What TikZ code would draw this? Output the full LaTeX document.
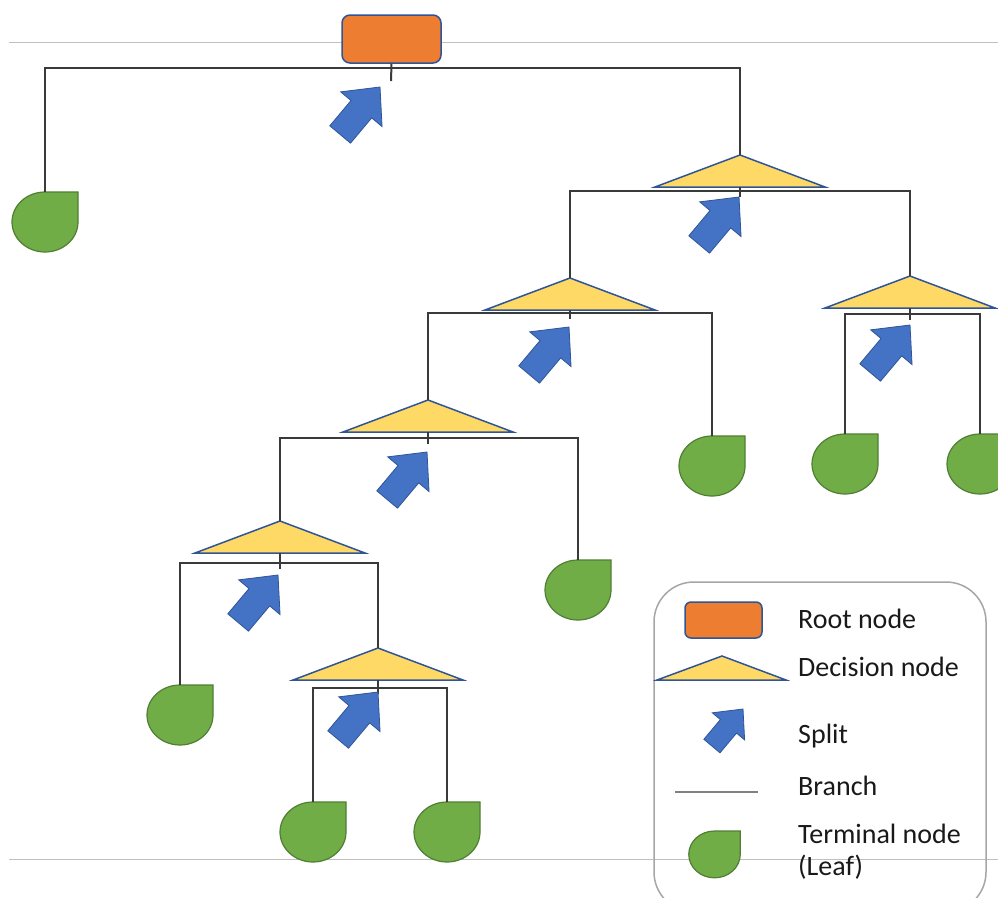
\documentclass[tikz,border=0pt]{standalone}
\usepackage{fontspec}
\setmainfont{Carlito}
\definecolor{rootfill}{HTML}{ED7D31}
\definecolor{edgeblue}{HTML}{2F5597}
\definecolor{decfill}{HTML}{FFD966}
\definecolor{splitfill}{HTML}{4472C4}
\definecolor{leaffill}{HTML}{70AD47}
\definecolor{leafedge}{HTML}{507E32}
\definecolor{branchgray}{HTML}{3A3A3A}
\definecolor{guidegray}{HTML}{C0C0C0}
\definecolor{legendgray}{HTML}{A6A6A6}
\begin{document}
\begin{tikzpicture}[x=1pt,y=-1pt,
  branch/.style={draw=branchgray,line width=2pt},
  guide/.style={draw=guidegray,line width=1pt},
  rootbox/.style={draw=edgeblue,fill=rootfill,line width=1.5pt,rounded corners=8pt,inner sep=0pt},
  decshape/.style={draw=edgeblue,fill=decfill,line width=1.5pt,line join=miter},
  leafshape/.style={draw=leafedge,fill=leaffill,line width=1.2pt},
  splitshape/.style={draw=edgeblue,fill=splitfill,line width=0.8pt,line join=miter},
  legtext/.style={inner sep=0pt,font=\fontsize{28}{33}\selectfont,text=black!90},
  decision/.pic={
    \coordinate (-apex) at (0,0);
    \coordinate (-split) at (0,#1);
    \path[decshape] (0,0) -- (-85,32) -- (85,32) -- cycle;
    \draw[branch] (0,32) -- (0,#1+6);
  },
  leaf/.pic={
    \coordinate (-top) at (0,0);
    \path[leafshape] (0,0) -- (33,0) -- (33,30)
      arc[start angle=0,end angle=270,x radius=33,y radius=30] -- cycle;
  },
  split/.pic={
    \path[splitshape,rotate=50] (0,0) -- (-29,27) -- (-29,13.5) -- (-62,13.5)
      -- (-62,-13.5) -- (-29,-13.5) -- (-29,-27) -- cycle;
  }]
\clip (0,0) rectangle (998,897);
\fill[white] (0,0) rectangle (998,897);

% slide guide lines
\draw[guide] (9,42) -- (998,42);
\draw[guide] (9,859) -- (998,859);

% root
\node[rootbox,minimum width=99pt,minimum height=48pt] (root) at (391.5,39) {};
\coordinate (root-split) at (391,68);
\draw[branch] (root.south) -- (391,81);

% decision nodes
\pic (d1) at (740,155) {decision=36};
\pic (d2) at (570,278) {decision=35};
\pic (d3) at (910,276) {decision=38};
\pic (d4) at (428,400) {decision=38};
\pic (d5) at (280,521) {decision=42};
\pic (d6) at (378,648) {decision=40};

% terminal nodes
\pic (l1) at (45,192) {leaf};
\pic (l2) at (712,436) {leaf};
\pic (l3) at (845,434) {leaf};
\pic (l4) at (980,434) {leaf};
\pic (l5) at (578,560) {leaf};
\pic (l6) at (180,685) {leaf};
\pic (l7) at (313,802) {leaf};
\pic (l8) at (447,802) {leaf};

% branches
\draw[branch] (l1-top) |- (root-split) -| (d1-apex);
\draw[branch] (d2-apex) |- (d1-split) -| (d3-apex);
\draw[branch] (d4-apex) |- (d2-split) -| (l2-top);
\draw[branch] (l3-top) |- (d3-split) -| (l4-top);
\draw[branch] (d5-apex) |- (d4-split) -| (l5-top);
\draw[branch] (l6-top) |- (d5-split) -| (d6-apex);
\draw[branch] (l7-top) |- (d6-split) -| (l8-top);

% splits
\pic (s1) at (380,87) {split};
\pic (s2) at (739,197) {split};
\pic (s3) at (569,327) {split};
\pic (s4) at (910,325) {split};
\pic (s5) at (427,452) {split};
\pic (s6) at (278,575) {split};
\pic (s7) at (378,692) {split};

% legend
\draw[draw=legendgray,line width=1.5pt,rounded corners=40pt] (654,582) rectangle (986,912);
\node[rootbox,rounded corners=6pt,minimum width=77pt,minimum height=36pt] (key-root) at (723.5,620) {};
\path[decshape] (722,656) -- (657,680) -- (786,680) -- cycle;
\pic[scale=0.78] (key-split) at (743,709) {split};
\coordinate (key-branch-a) at (675,792);
\coordinate (key-branch-b) at (758,792);
\draw[draw=gray,line width=1.5pt] (key-branch-a) -- (key-branch-b);
\pic[scale=0.78] (key-leaf) at (714.5,831) {leaf};

\node[legtext,anchor=base west] (lab-root) at (798,628) {Root node};
\node[legtext,anchor=base west] (lab-dec) at (798,676) {Decision node};
\node[legtext,anchor=base west] (lab-split) at (798,743) {Split};
\node[legtext,anchor=base west] (lab-branch) at (798,795) {Branch};
\node[legtext,anchor=base west] (lab-term) at (798,843) {Terminal node};
\node[legtext,anchor=base west] (lab-leaf) at (798,875) {(Leaf)};
\end{tikzpicture}
\end{document}
